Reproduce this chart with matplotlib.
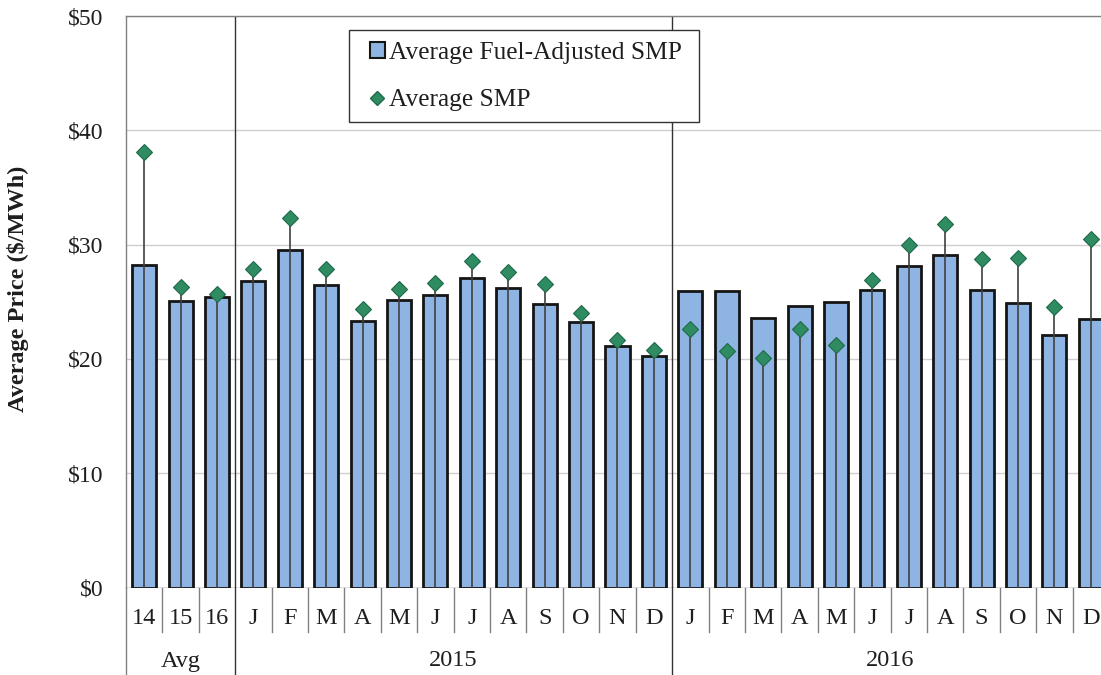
import matplotlib
matplotlib.use("Agg")
import matplotlib.pyplot as plt
from matplotlib.lines import Line2D
from matplotlib.patches import Patch, Rectangle
import numpy as np

categories = ['14', '15', '16', 'J', 'F', 'M', 'A', 'M', 'J', 'J', 'A', 'S', 'O', 'N', 'D',
              'J', 'F', 'M', 'A', 'M', 'J', 'J', 'A', 'S', 'O', 'N', 'D']
groups = ['Avg', '2015', '2016']
group_sizes = [3, 12, 12]
fuel_adjusted_smp = [28.25, 25.05, 25.4, 26.8, 29.5, 26.46, 23.35, 25.15, 25.6, 27.1, 26.23,
                     24.78, 23.23, 21.1, 20.23, 25.91, 25.91, 23.61, 24.66, 24.95, 26.0, 28.16,
                     29.1, 26.0, 24.9, 22.1, 23.45]
average_smp = [38.1, 26.25, 25.7, 27.9, 32.3, 27.84, 24.37, 26.14, 26.67, 28.6, 27.63, 26.55,
               23.99, 21.65, 20.78, 22.59, 20.66, 20.05, 22.59, 21.24, 26.88, 29.95, 31.76,
               28.7, 28.85, 24.5, 30.5]
yticks = [0, 10, 20, 30, 40, 50]

plt.rcParams['font.family'] = ['Liberation Serif', 'DejaVu Serif']
FS = 17.5
LFS = 18.3
TXT = '#1e1e1e'

W, H = 1101, 675
fig = plt.figure(figsize=(W / 100, H / 100), dpi=100)
ax_left, ax_right, ax_top, ax_bot = 126, 1109, 16, 587.5
ax = fig.add_axes([ax_left / W, 1 - ax_bot / H, (ax_right - ax_left) / W, (ax_bot - ax_top) / H])

x = np.arange(len(categories))
ax.bar(x, fuel_adjusted_smp, width=0.66, color='#8DB4E2', edgecolor='#151515',
       linewidth=2.0, zorder=2)
ax.vlines(x, 0, average_smp, color='#404040', linewidth=1.2, zorder=3)
ax.plot(x, average_smp, linestyle='none', marker='D', markersize=8.5,
        markerfacecolor='#2E8B62', markeredgecolor='#1F6A48', markeredgewidth=0.8, zorder=4)

ax.set_xlim(-0.5, len(categories) - 0.5)
ax.set_ylim(0, 50)
ax.set_yticks(yticks)
ax.set_yticklabels([f'${v}' for v in yticks])
ax.tick_params(axis='y', length=0, pad=16, labelsize=17, colors=TXT)
ax.set_xticks([])
ax.grid(axis='y', color='#CFCFCF', linewidth=1.0, zorder=0)
ax.set_axisbelow(True)
for s in ['right', 'bottom']:
    ax.spines[s].set_visible(False)
for s in ['left', 'top']:
    ax.spines[s].set_color('#808080')
    ax.spines[s].set_linewidth(1.0)
ax.axhline(0, color='#808080', linewidth=1.0, zorder=1)

ax.set_ylabel('Average Price ($/MWh)', fontsize=17.5, fontweight='bold', color=TXT)
ax.yaxis.set_label_coords(-(126 - 29) / (ax_right - ax_left), (587.5 - 289) / (587.5 - 16))

# category axis below
tr = ax.get_xaxis_transform()
hpx = ax_bot - ax_top
def yfrac(py):
    return -(py - ax_bot) / hpx

bounds = np.cumsum([0] + group_sizes) - 0.5
for i, lab in enumerate(categories):
    ax.text(i, yfrac(618), lab, transform=tr, ha='center', va='center', fontsize=FS,
            color=TXT)
for b in np.arange(-0.5, len(categories) - 0.5):
    if b in bounds:
        continue
    ax.add_line(Line2D([b, b], [0, yfrac(632)], transform=tr, color='#808080',
                       linewidth=1.0, clip_on=False))
for b in bounds[:-1]:
    ax.add_line(Line2D([b, b], [0, yfrac(676)], transform=tr,
                       color='#808080' if b == -0.5 else '#333333',
                       linewidth=1.0, clip_on=False))
for b in bounds[1:-1]:
    ax.axvline(b, color='#333333', linewidth=1.0, zorder=1)
for g, s0, s1 in zip(groups, bounds[:-1], bounds[1:]):
    ax.text((s0 + s1) / 2, yfrac(661), g, transform=tr, ha='center', va='center',
            fontsize=FS, color=TXT)

# legend
fig.add_artist(Rectangle((349 / W, 1 - 122 / H), 350 / W, 92 / H, transform=fig.transFigure,
                         facecolor='white', edgecolor='#333333', linewidth=1.0, zorder=5))
handles = [Patch(facecolor='#8DB4E2', edgecolor='#151515', linewidth=1.5),
           Line2D([], [], linestyle='none', marker='D', markersize=7.5,
                  markerfacecolor='#2E8B62', markeredgecolor='#1F6A48')]
leg = fig.legend(handles, ['Average Fuel-Adjusted SMP', 'Average SMP'],
                 loc='upper left', bbox_to_anchor=(358 / W, 1 - 30 / H),
                 bbox_transform=fig.transFigure, borderaxespad=0, fontsize=LFS,
                 frameon=False, handlelength=0.6, handleheight=0.6, handletextpad=0.15,
                 labelspacing=1.0, borderpad=0.46)
leg.set_zorder(6)
for t in leg.get_texts():
    t.set_color(TXT)

fig.savefig('out.png', dpi=100)
